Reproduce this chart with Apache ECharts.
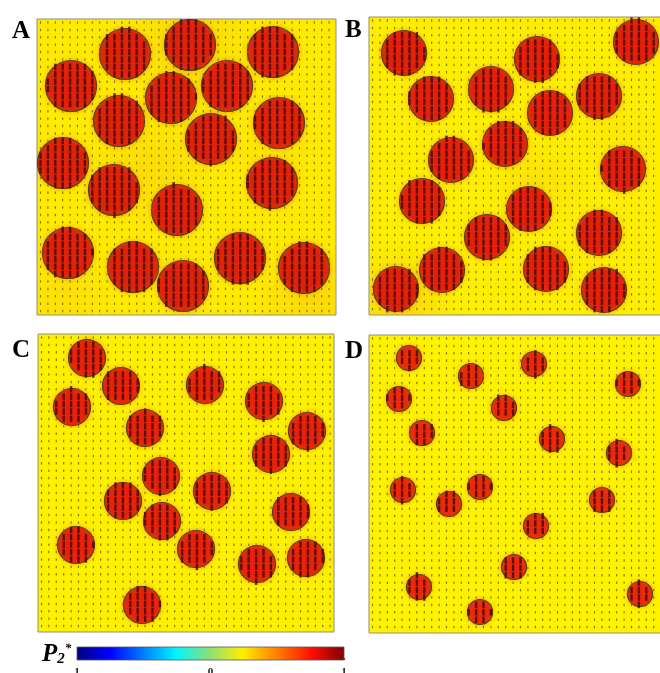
<!DOCTYPE html>
<html><head><meta charset="utf-8">
<style>html,body{margin:0;padding:0;background:#fff;overflow:hidden}#c{width:660px;height:673px}#c canvas{filter:blur(.55px)}</style>
<script src="https://cdn.jsdelivr.net/npm/echarts@6/dist/echarts.min.js"></script>
</head><body><div id="c"></div>
<script>
// Particle centres, in panel units (origin top-left of each panel)
var particlesA=[[88,35],[153,26],[236,33],[34,67],[82,102],[134,79],[190,67],[242,104],[174,120],[26,144],[77,171],[235,164],[140,191],[31,234],[96,248],[146,267],[203,239],[267,249]];
var particlesB=[[35,36],[267,25],[168,42],[62,82],[122,72],[230,79],[181,96],[136,127],[82,143],[254,152],[53,184],[160,192],[118,220],[230,216],[73,253],[177,252],[27,272],[235,273]];
var particlesC=[[49,24],[83,52],[167,51],[34,73],[226,67],[107,94],[269,97],[233,120],[123,142],[174,157],[85,167],[253,178],[124,187],[158,215],[38,211],[219,230],[268,224],[104,271]];
var particlesD=[[40,23],[165,29],[102,41],[259,49],[30,64],[135,73],[53,98],[183,104],[250,118],[34,155],[111,152],[80,169],[233,165],[167,191],[145,232],[50,252],[271,259],[111,277]];
var radii=[25.5,22.5,18.5,12.5];
// Soft orange tint patches in the field: x, y, radius, opacity
var tintsA=[[150,20,70,.3],[110,150,70,.22],[275,280,60,.28],[30,270,50,.18],[240,130,50,.12]];
var tintsB=[[30,285,60,.35],[170,165,50,.18],[250,120,40,.08]];
var tintsC=[];
var tintsD=[];
var letters=['A','B','C','D'];
var colorStops=[[0,'#00007f'],[.125,'#0000ff'],[.37,'#00f5ff'],[.5,'#90e070'],[.62,'#ffee00'],[.875,'#ff1000'],[1,'#7f0000']];
var colorbarRange=[-1,1];
var colorbarTicks=[-1,0,1];

var panels=[
 {left:37,top:19,w:299,h:296,dots:particlesA,tints:tintsA,fill:'#e0220a',bg:'#ffea00'},
 {left:369,top:17,w:296,h:298,dots:particlesB,tints:tintsB,fill:'#e4200a',bg:'#ffee00'},
 {left:38,top:334,w:296,h:298,dots:particlesC,tints:tintsC,fill:'#e8220a',bg:'#fff000'},
 {left:369,top:335,w:296,h:298,dots:particlesD,tints:tintsD,fill:'#ea280a',bg:'#fff200'}
];
var spacing=7.4;
var grids=[],xAxes=[],yAxes=[],series=[],titles=[];
panels.forEach(function(p,i){
  var r=radii[i];
  grids.push({left:p.left,top:p.top,width:p.w,height:p.h,outerBoundsMode:'none',show:true,backgroundColor:p.bg,borderColor:'#8f8f80',borderWidth:1});
  xAxes.push({gridIndex:i,type:'value',min:0,max:p.w,show:false});
  yAxes.push({gridIndex:i,type:'value',min:0,max:p.h,inverse:true,show:false});
  series.push({type:'custom',xAxisIndex:i,yAxisIndex:i,clip:true,silent:true,data:p.tints,z:1,
    renderItem:function(params,api){
      var c=api.coord([api.value(0),api.value(1)]),R=api.size([api.value(2),api.value(2)])[0],o=api.value(3);
      return {type:'circle',shape:{cx:c[0],cy:c[1],r:R},style:{fill:{type:'radial',x:.5,y:.5,r:.5,colorStops:[{offset:0,color:'rgba(245,170,20,'+o+')'},{offset:1,color:'rgba(245,170,20,0)'}]}}};
    }});
  series.push({type:'custom',xAxisIndex:i,yAxisIndex:i,clip:true,silent:true,data:p.dots,z:2,
    renderItem:function(params,api){
      var c=api.coord([api.value(0),api.value(1)]),R=api.size([r,r])[0];
      return {type:'circle',shape:{cx:c[0],cy:c[1],r:R},style:{fill:p.fill,stroke:'#54401a',lineWidth:1.2,shadowBlur:5,shadowColor:'rgba(240,130,10,.6)'}};
    }});
  var outside=[],inside=[];
  for(var x=3.5;x<p.w;x+=spacing){for(var y=3.5;y<p.h;y+=spacing){
    var inn=p.dots.some(function(d){return Math.hypot(d[0]-x,d[1]-y)<r-.5;});
    (inn?inside:outside).push([x,y]);
  }}
  series.push({type:'scatter',xAxisIndex:i,yAxisIndex:i,clip:true,silent:true,data:outside,symbol:'rect',symbolSize:[1.2,2.5],z:3,
    itemStyle:{color:'#6e6a20',opacity:.85}});
  series.push({type:'scatter',xAxisIndex:i,yAxisIndex:i,clip:true,silent:true,data:inside,symbol:'rect',symbolSize:[2.4,6.4],z:3,
    itemStyle:{color:'#4a0a08',opacity:.85}});
  var lx=[12,345,12,345][i],ly=[19,18,338,339][i];
  titles.push({text:letters[i],left:lx,top:ly,padding:0,textStyle:{fontFamily:'Liberation Serif',fontWeight:'bold',fontSize:25,color:'#000'}});
});
// colour bar
grids.push({left:77,top:647,width:267,height:13,outerBoundsMode:'none',show:false});
xAxes.push({gridIndex:4,type:'value',min:colorbarRange[0],max:colorbarRange[1],interval:.2,position:'bottom',
  axisLine:{show:false},splitLine:{show:false},axisTick:{inside:true,length:2,lineStyle:{color:'#333',width:1}},
  axisLabel:{margin:7,fontFamily:'Liberation Serif',fontWeight:'bold',fontSize:11,color:'#222',
    formatter:function(v){var t=colorbarTicks.filter(function(k){return Math.abs(k-v)<1e-6;});return t.length?String(Math.abs(t[0])):'';}}});
yAxes.push({gridIndex:4,type:'value',min:0,max:1,show:false});
series.push({type:'custom',xAxisIndex:4,yAxisIndex:4,silent:true,data:[[colorbarRange[0],colorbarRange[1]]],z:1,
  renderItem:function(params,api){
    var a=api.coord([api.value(0),0]),b=api.coord([api.value(1),1]);
    return {type:'rect',shape:{x:a[0],y:b[1],width:b[0]-a[0],height:a[1]-b[1]},style:{stroke:'#555',lineWidth:.8,
      fill:{type:'linear',x:0,y:0,x2:1,y2:0,colorStops:colorStops.map(function(s){return {offset:s[0],color:s[1]};})}}};
  }});
titles.push({text:'{p|P}{s|2}{t|*}',left:42,top:642,padding:0,textStyle:{rich:{
  p:{fontFamily:'Liberation Serif',fontWeight:'bold',fontStyle:'italic',fontSize:25,color:'#000'},
  s:{fontFamily:'Liberation Serif',fontWeight:'bold',fontStyle:'italic',fontSize:15,color:'#000',verticalAlign:'bottom',padding:[8,0,0,0]},
  t:{fontFamily:'Liberation Serif',fontWeight:'bold',fontStyle:'italic',fontSize:13,color:'#000',verticalAlign:'top'}
}}});
var chart=echarts.init(document.getElementById('c'),null,{renderer:'canvas',width:660,height:673});
chart.setOption({animation:false,backgroundColor:'#fff',title:titles,grid:grids,xAxis:xAxes,yAxis:yAxes,series:series});
</script></body></html>
